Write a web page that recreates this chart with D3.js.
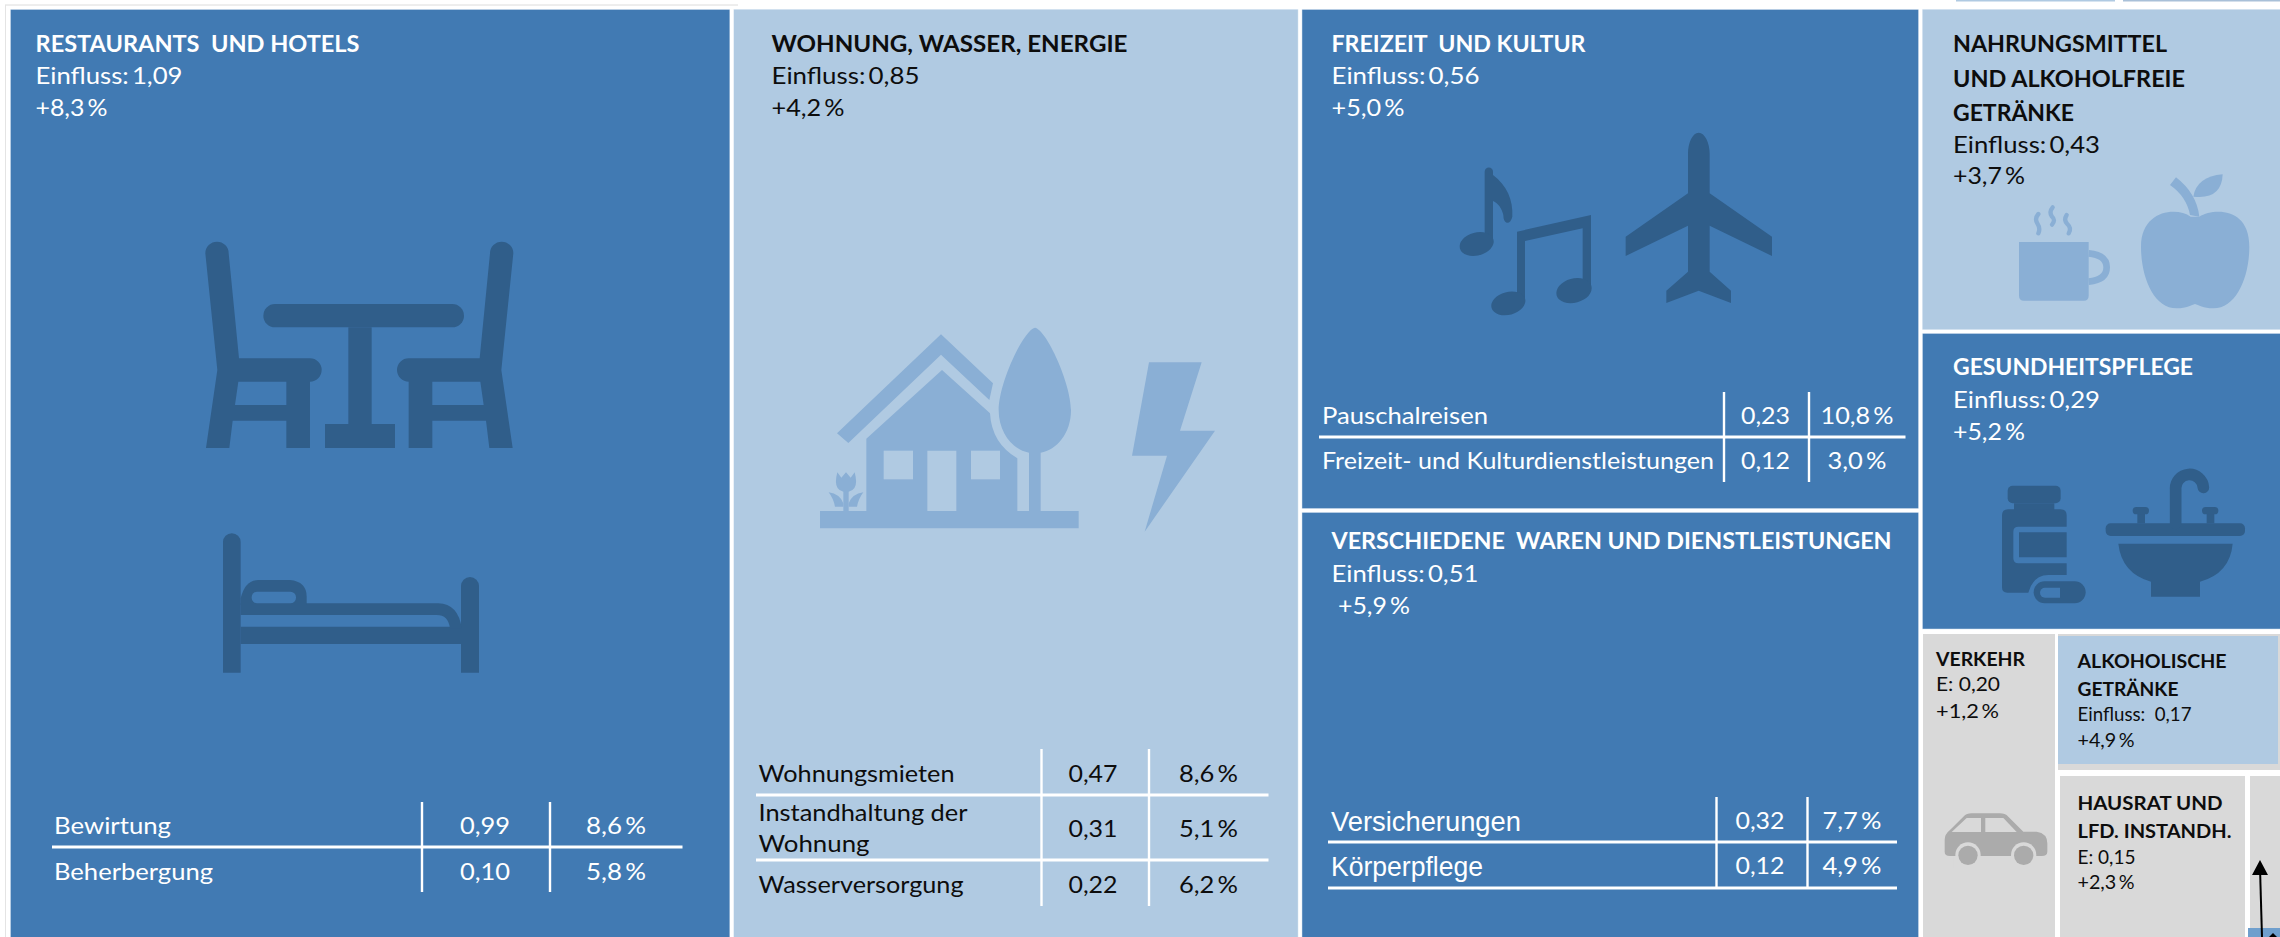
<!DOCTYPE html>
<html lang="de">
<head>
<meta charset="utf-8">
<script src="https://cdn.jsdelivr.net/npm/d3@7"></script>
<style>
html,body{margin:0;padding:0;background:#fff;overflow:hidden}
svg{display:block}
text{white-space:pre;font-family:Lato,"Open Sans",sans-serif}
</style>
</head>
<body>
<div id="chart"></div>
<script>
// ---------- data ----------
const groupNames = ["Restaurants und Hotels","Wohnung, Wasser, Energie","Freizeit und Kultur","Verschiedene Waren und Dienstleistungen","Nahrungsmittel und alkoholfreie Getränke","Gesundheitspflege","Verkehr","Alkoholische Getränke","Hausrat und lfd. Instandh."];
const groupInfluence = [1.09,0.85,0.56,0.51,0.43,0.29,0.20,0.17,0.15];
const groupChange = [8.3,4.2,5.0,5.9,3.7,5.2,1.2,4.9,2.3];
const restaurantItems = ["Bewirtung","Beherbergung"];
const restaurantInfluence = [0.99,0.10];
const restaurantChange = [8.6,5.8];
const housingItems = ["Wohnungsmieten","Instandhaltung der|Wohnung","Wasserversorgung"];
const housingInfluence = [0.47,0.31,0.22];
const housingChange = [8.6,5.1,6.2];
const leisureItems = ["Pauschalreisen","Freizeit- und Kulturdienstleistungen"];
const leisureInfluence = [0.23,0.12];
const leisureChange = [10.8,3.0];
const miscItems = ["Versicherungen","Körperpflege"];
const miscInfluence = [0.32,0.12];
const miscChange = [7.7,4.9];

// ---------- formats ----------
const de = d3.formatLocale({decimal:",",thousands:".",grouping:[3],currency:["","€"]});
const fInf = de.format(".2f"), fPct = de.format(".1f");
const fChange = v => "+" + fPct(v) + "\u2009%";

// ---------- colours ----------
const DARK="#417ab3", LIGHT="#b0cae2", GREY="#d9d9d9", ICON_D="#305e8a", ICON_L="#8aafd5", CAR="#ababab", INK="#0d0d0d";

// ---------- scales: cumulative influence -> page ----------
const cum = a => a.reduce((o,v)=>(o.push(+(o[o.length-1]+v).toFixed(2)),o),[0]);
const colX = d3.scaleLinear().domain(cum([1.09,0.85,1.07,0.72])).range([8.5,731.75,1300,1920.5,2284]);
const leisureY = d3.scaleLinear().domain(cum([0.56,0.51])).range([7.5,510.5,1000]);
const rightY = d3.scaleLinear().domain(cum([0.43,0.29,0.37])).range([7.5,331.5,631,1000]);
const lowX = d3.scaleLinear().domain(cum([0.20,0.17])).range([1920.5,2057,2284]);
const lowY = d3.scaleLinear().domain(cum([0.17,0.15])).range([634,773,1000]);
const houseX = d3.scaleLinear().domain(cum([0.15])).range([2057.5,2247.5]);

const svg = d3.select("#chart").append("svg").attr("width",2280).attr("height",937).attr("viewBox","0 0 2280 937");

// page furniture
svg.append("line").attr("x1",5).attr("x2",738).attr("y1",5).attr("y2",5).attr("stroke","#dcdcdc");
svg.append("line").attr("x1",5.5).attr("x2",5.5).attr("y1",5).attr("y2",937).attr("stroke","#e4e4e4");
svg.append("rect").attr("x",1956).attr("y",0).attr("width",159).attr("height",1.5).attr("fill",LIGHT);
svg.append("rect").attr("x",2123).attr("y",0).attr("width",157).attr("height",1.5).attr("fill","#a9c0d8");

function frame(x0,x1,y0,y1,fill,g=2.25){
  svg.append("rect").attr("x",x0+g-.5).attr("y",y0+g-.5).attr("width",x1-x0-2*g+1).attr("height",y1-y0-2*g+1).attr("fill","#d3e1ef");
  svg.append("rect").attr("x",x0+g).attr("y",y0+g).attr("width",x1-x0-2*g).attr("height",y1-y0-2*g).attr("fill",fill);
}
// main panels
frame(colX(0),colX(1.09),7.5,1000,DARK);
frame(colX(1.09),colX(1.94),7.5,1000,LIGHT);
frame(colX(1.94),colX(3.01),leisureY(0),leisureY(0.56),DARK);
frame(colX(1.94),colX(3.01),leisureY(0.56),leisureY(1.07),DARK);
frame(colX(3.01),colX(3.73),rightY(0),rightY(0.43),LIGHT);
frame(colX(3.01),colX(3.73),rightY(0.43),rightY(0.72),DARK);
// lower-right tiles
const gr=(x,y,w,h,c)=>svg.append("rect").attr("x",x).attr("y",y).attr("width",w).attr("height",h).attr("fill",c);
gr(colX(3.01)+2.5,lowY(0),lowX(0.20)-colX(3.01)-4.5,303,GREY);
gr(lowX(0.20)+1,lowY(0),223,136,GREY);
gr(lowX(0.20)+1,lowY(0)+2,220,128,LIGHT);
gr(houseX(0)+2.5,lowY(0.17)+3,houseX(0.15)-houseX(0)-5,161,GREY);
gr(houseX(0.15)+2.5,lowY(0.17)+3,31,152,GREY);
gr(houseX(0.15)+.5,928,33,9,"#6f9fcd");
svg.append("line").attr("x1",2260).attr("y1",868).attr("x2",2262).attr("y2",937).attr("stroke","#000").attr("stroke-width",2);
svg.append("path").attr("d",d3.line()([[2260,860],[2268,875],[2252,875]])+"Z").attr("fill","#000");
svg.append("path").attr("d",d3.line()([[2273,933],[2277,937],[2269,937]])+"Z").attr("fill","#000");

// ---------- text helper: x = left (or centre), w = drawn width ----------
function T(str,x,y,o={}){
  const t=svg.append("text").attr("x",x).attr("y",y).attr("font-size",o.size||24)
    .attr("font-weight",o.bold?700:400).attr("fill",o.fill||"#fff").attr("text-anchor",o.mid?"middle":"start").text(str);
  if(o.w) t.attr("textLength",o.w).attr("lengthAdjust","spacingAndGlyphs");
  if(o.family) t.style("font-family",o.family);
  return t;
}
// ---------- panel headers ----------
const headers = [
 {i:0,x:35.5,lines:[["RESTAURANTS  UND HOTELS",52,324]],infY:83.5,infW:147,infLabel:"Einfluss:\u2009",pX:35.5,pY:116,pW:72,fill:"#fff"},
 {i:1,x:771.5,lines:[["WOHNUNG, WASSER, ENERGIE",52,356]],infY:83.5,infW:148,infLabel:"Einfluss:\u2009",pX:771.5,pY:116,pW:73,fill:INK},
 {i:2,x:1331.5,lines:[["FREIZEIT  UND KULTUR",52,254]],infY:83.5,infW:148,infLabel:"Einfluss:\u2009",pX:1331.5,pY:116,pW:73,fill:"#fff"},
 {i:3,x:1331.5,lines:[["VERSCHIEDENE  WAREN UND DIENSTLEISTUNGEN",549,560]],infY:581.5,infW:147,infLabel:"Einfluss:\u2009",pX:1338,pY:614,pW:72,fill:"#fff"},
 {i:4,x:1953,lines:[["NAHRUNGSMITTEL",52,214],["UND ALKOHOLFREIE",87,232],["GETRÄNKE",121,121]],infY:153,infW:147,infLabel:"Einfluss:\u2009",pX:1953,pY:184,pW:72,fill:INK},
 {i:5,x:1953,lines:[["GESUNDHEITSPFLEGE",375,240]],infY:408,infW:147,infLabel:"Einfluss:\u2009",pX:1953,pY:440,pW:72,fill:"#fff"},
 {i:6,x:1936,lines:[["VERKEHR",666,89]],infY:691,infW:64,infLabel:"E: ",pX:1936,pY:718,pW:63,fill:INK,size:20},
 {i:7,x:2077.5,lines:[["ALKOHOLISCHE",668,149],["GETRÄNKE",696,101]],infY:721,infW:114,infLabel:"Einfluss:  ",pX:2077.5,pY:747,pW:57,fill:INK,size:19},
 {i:8,x:2077.5,lines:[["HAUSRAT UND",810,145],["LFD. INSTANDH.",838,154]],infY:864,infW:58,infLabel:"E: ",pX:2077.5,pY:889,pW:57,fill:INK,size:19}
];
headers.forEach(h=>{
  h.lines.forEach(([s,y,w])=>T(s,h.x,y,{bold:true,w,fill:h.fill,size:(h.size||24)-1}));
  T(h.infLabel+fInf(groupInfluence[h.i]),h.x,h.infY,{w:h.infW,fill:h.fill,size:h.size||24});
  T(fChange(groupChange[h.i]),h.pX,h.pY,{w:h.pW,fill:h.fill,size:h.size||24});
});

// ---------- sub-tables ----------
function table(c){
  const g=c.fill;
  c.items.forEach((name,i)=>{
    const parts=name.split("|");
    parts.forEach((p,k)=>T(p,c.xText,c.nameY[i][k]-1.5,{w:c.nameW[i][k],fill:g,family:c.family,size:c.family?27:24}));
    T(fInf(c.inf[i]),c.mid1,c.valY[i]-1.5,{mid:true,w:c.w1,fill:g});
    T(fPct(c.chg[i])+"\u2009%",c.mid2,c.valY[i]-1.5,{mid:true,w:c.w2[i],fill:g});
  });
  c.rules.forEach(y=>svg.append("line").attr("x1",c.x0).attr("x2",c.x1).attr("y1",y).attr("y2",y).attr("stroke","#fff").attr("stroke-width",3));
  c.cols.forEach(x=>svg.append("line").attr("x1",x).attr("x2",x).attr("y1",c.y0).attr("y2",c.y1).attr("stroke","#fff").attr("stroke-width",2.4));
}
table({items:restaurantItems,inf:restaurantInfluence,chg:restaurantChange,fill:"#fff",xText:54,
 nameY:[[835],[881]],nameW:[[117],[159]],valY:[835,881],mid1:485,w1:50,mid2:616,w2:[60,60],
 rules:[847],x0:52,x1:682.5,cols:[422,550],y0:802,y1:892});
table({items:housingItems,inf:housingInfluence,chg:housingChange,fill:INK,xText:758.5,
 nameY:[[783],[822,853],[894]],nameW:[[196],[209,111],[205]],valY:[783,838,894],mid1:1093,w1:49,mid2:1208.5,w2:[59,59,59],
 rules:[795,860],x0:756,x1:1268.5,cols:[1041.5,1149],y0:749,y1:906});
table({items:leisureItems,inf:leisureInfluence,chg:leisureChange,fill:"#fff",xText:1322,
 nameY:[[425],[470]],nameW:[[166],[392]],valY:[425,470],mid1:1765.5,w1:49,mid2:1857,w2:[73,59],
 rules:[437],x0:1319,x1:1905.5,cols:[1724,1809],y0:392,y1:482});
table({items:miscItems,inf:miscInfluence,chg:miscChange,fill:"#fff",xText:1331,family:'"Liberation Sans",sans-serif',
 nameY:[[832],[877]],nameW:[[190],[152]],valY:[830,875],mid1:1760,w1:49,mid2:1852,w2:[59,59],
 rules:[842,888],x0:1328,x1:1897,cols:[1716.5,1807.5],y0:797,y1:888});

// ---------- icons: outlines in 3x local units ----------
function icon(ox,oy,fg,bg,shapes){
  const g=svg.append("g").attr("transform",`translate(${ox},${oy}) scale(${1/3})`);
  shapes.forEach(s=>{
    const p=g.append("path").attr("d",s.d);
    if(s.line){p.attr("fill","none").attr("stroke",s.hole?bg:fg).attr("stroke-width",s.line).attr("stroke-linecap",s.cap||"butt");}
    else p.attr("fill",s.hole?bg:fg);
    if(s.tf) p.attr("transform",s.tf);
  });
}
const rr=(x0,y0,x1,y1,r)=>`M${x0+r},${y0}L${x1-r},${y0}A${r},${r} 0 0 1 ${x1},${y0+r}L${x1},${y1-r}A${r},${r} 0 0 1 ${x1-r},${y1}L${x0+r},${y1}A${r},${r} 0 0 1 ${x0},${y1-r}L${x0},${y0+r}A${r},${r} 0 0 1 ${x0+r},${y0}Z`;
const ell=(cx,cy,rx,ry,rot)=>`M${cx-rx},${cy}A${rx},${ry} ${rot} 1 0 ${cx+rx},${cy}A${rx},${ry} ${rot} 1 0 ${cx-rx},${cy}Z`;
const box=(x0,y0,x1,y1)=>`M${x0},${y0}H${x1}V${y1}H${x0}Z`;

// table and chairs
const chair="M166,100A35,35 0 0 1 236,100L267,415H480A35,35 0 0 1 480,485V684H409V602H248L238,684H168L202,450Z";
const chairHole="M265,485H409V555H255Z";
icon(150,220,ICON_D,DARK,[
 {d:rr(340,252,942,322,35)},{d:box(595,322,665,612)},{d:box(525,612,735,684)},
 {d:chair},{d:chairHole,hole:true},
 {d:chair,tf:"translate(1256,0) scale(-1,1)"},{d:chairHole,hole:true,tf:"translate(1256,0) scale(-1,1)"}
]);
// bed
icon(150,220,ICON_D,DARK,[
 {d:"M219,966A26.5,26.5 0 0 1 272,966V1358H219Z"},
 {d:"M933,1098A27,27 0 0 1 987,1098V1358H933Z"},
 {d:box(272,1220,933,1272)},
 {d:"M272,1150H865Q925,1152 935,1225L900,1225Q895,1185 860,1185H272Z"},
 {d:"M272,1135Q285,1080 325,1080H420Q470,1085 470,1130V1155H272Z"},
 {d:rr(305,1115,438,1150,17),hole:true}
]);
// house, tree, flower, bolt
icon(790,310,ICON_L,LIGHT,[
 {d:box(90,603,866,655)},
 {d:"M141,370L453,73L609,220L598,270L453,134L175,399Z"},
 {d:"M229,386L456,180L600,310Q605,400 682,445V603H229Z"},
 {d:box(281,422,369,508),hole:true},{d:box(412,422,499,603),hole:true},{d:box(543,422,630,508),hole:true},
 {d:"M735,53C770,60 843,220 843,300C843,370 800,420 752,428V603H717V428C670,420 626,370 626,300C626,220 700,60 735,53Z"},
 {d:"M142,487L154,503L168,487L182,503L194,487Q208,540 176,545V603H160V545Q128,540 142,487Z"},
 {d:"M116,547Q150,552 160,580V590H135Q130,565 116,547Z"},
 {d:"M220,547Q186,552 176,580V590H201Q206,565 220,547Z"},
 {d:"M1077,157H1235L1170,362H1275L1064,665L1131,437H1026Z"}
]);
// notes and plane
icon(1420,120,ICON_D,DARK,[
 {d:"M194,155A12.5,12.5 0 0 1 219,155V365H194Z"},
 {d:ell(170,372,50,33,-15)},
 {d:"M219,165C260,195 280,240 277,290Q272,310 260,308Q250,305 250,285C245,265 235,250 219,243Z"},
 {d:"M291,335L513,285V510H488V325L315,363V545H291Z"},
 {d:ell(265,550,50,33,-15)},{d:ell(462,512,52,35,-15)},
 {d:"M836,38C855,38 869,70 869,100V220L1056,350V408L869,317V455L933,512V549L836,512L739,549V512L804,455V317L617,408V350L804,220V100C804,70 817,38 836,38Z"}
]);
// cup and apple
icon(1920,0,ICON_L,LIGHT,[
 {d:"M297,726H506V887Q506,902 491,902H312Q297,902 297,887Z"},
 {d:"M506,760Q560,765 560,802Q560,840 506,845",line:20},
 {d:"M355,642Q343,656 352,670Q362,685 355,700",line:13,cap:"round"},
 {d:"M398,622Q386,636 396,650Q408,660 396,674",line:13,cap:"round"},
 {d:"M440,645Q430,660 442,672Q456,685 446,700",line:13,cap:"round"},
 {d:"M838,650C880,625 988,620 988,740C988,830 950,925 880,925C850,925 835,915 825,912C815,915 800,925 770,925C700,925 663,830 663,740C663,630 770,620 812,650Z"},
 {d:"M750,555L768,532Q830,580 838,650L810,645Q800,590 750,555Z"},
 {d:"M820,590Q830,530 908,523Q905,600 820,590Z"}
]);
// medicine and sink
icon(1920,330,ICON_D,DARK,[
 {d:rr(263,467,422,520,15)},{d:box(282,520,403,540)},
 {d:"M264,538H422Q440,538 440,556V590H295Q280,590 280,605V685Q280,700 295,700H440V735H385Q340,735 325,788H262Q246,788 246,772V556Q246,538 264,538Z"},
 {d:box(297,607,440,682)},
 {d:rr(341,754,497,820,33)},
 {d:"M375,773H420V803H375A15,15 0 0 1 375,773Z",hole:true},
 {d:rr(557,580,975,618,15)},
 {d:"M595,641H938Q930,730 840,755V800H693V755Q605,730 595,641Z"},
 {d:"M767,580V478A41,41 0 0 1 850,472",line:35,cap:"round"},
 {d:box(652,550,675,580)},{d:rr(638,531,687,553,11)},
 {d:box(860,550,883,580)},{d:rr(846,531,895,553,11)}
]);
// car
icon(1900,620,CAR,GREY,[
 {d:"M134,660Q134,642 150,630L190,590Q200,580 215,580H300Q315,580 325,590L370,635H410Q442,640 442,670V695Q442,708 425,708H150Q134,708 134,695Z"},
 {d:"M155,636L200,594H243V636Z",hole:true},{d:"M256,594H310L350,636H256Z",hole:true},
 {d:ell(204,705,38,38,0),hole:true},{d:ell(371,705,38,38,0),hole:true},
 {d:box(160,708,420,745),hole:true},
 {d:ell(204,706,29,29,0)},{d:ell(371,706,29,29,0)}
]);
</script>
</body>
</html>
